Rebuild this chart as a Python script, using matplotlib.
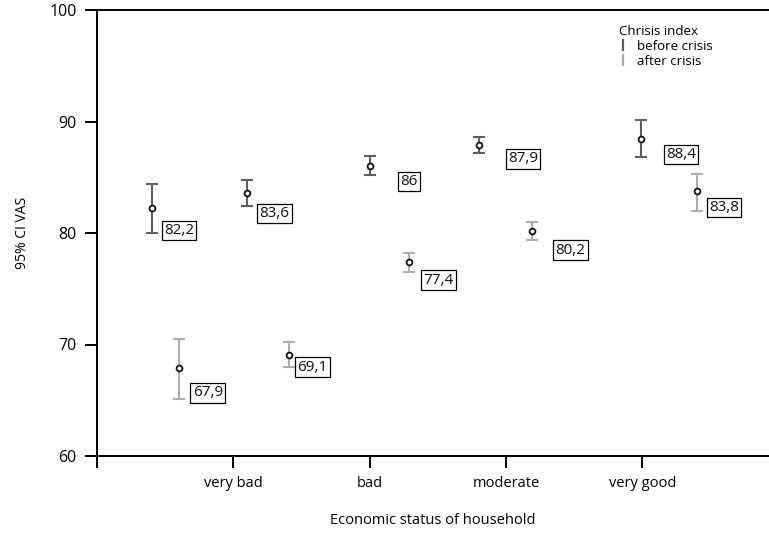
import matplotlib
matplotlib.use("Agg")
import matplotlib.pyplot as plt
from matplotlib.lines import Line2D

plt.rcParams['font.family'] = ['Open Sans', 'DejaVu Sans']

# ---- data ----
tick_labels = ["very bad", "bad", "moderate", "very good"]
before_mean = [82.2, 83.6, 86.0, 87.9, 88.4]
before_low = [80.0, 82.45, 85.2, 87.15, 86.8]
before_high = [84.4, 84.75, 86.9, 88.65, 90.1]
after_mean = [67.9, 69.1, 77.4, 80.2, 83.8]
after_low = [65.1, 68.0, 76.5, 79.35, 82.0]
after_high = [70.5, 70.2, 78.2, 81.0, 85.3]

# x positions (in category-axis units) where the groups are drawn
before_x = [0.40, 1.10, 2.00, 2.80, 3.99]
after_x = [0.60, 1.41, 2.29, 3.19, 4.40]

# label offsets (points) from each point: (dx, dy)
before_off = [(9, -16), (9, -15), (22, -11), (21, -10), (18, -11)]
after_off = [(10, -18), (6, -9), (10, -13), (17, -14), (9, -12)]

C_BEFORE = "#5e5e5e"
C_AFTER = "#adadad"

fig = plt.figure(figsize=(7.69, 5.38), dpi=100)
ax = fig.add_axes([97/769, (538-456)/538, (769-97)/769, (456-10)/538])

def draw(xs, m, lo, hi, color, offs):
    yerr = [[mm - l for mm, l in zip(m, lo)], [h - mm for mm, h in zip(m, hi)]]
    ax.errorbar(xs, m, yerr=yerr, fmt='none', ecolor=color, elinewidth=1.5,
                capsize=4.6, capthick=1.5, zorder=2)
    ax.plot(xs, m, linestyle='none', marker='o', markersize=4.2,
            markerfacecolor='white', markeredgecolor='#111111',
            markeredgewidth=1.3, zorder=3)
    for x, v, (dx, dy) in zip(xs, m, offs):
        s = f"{v:g}".replace('.', ',')
        ax.annotate(s, (x, v), xytext=(dx, dy), textcoords='offset points',
                    ha='left', va='center', fontsize=11, color='#111111',
                    bbox=dict(boxstyle='square,pad=0.15', facecolor='white',
                              edgecolor='black', linewidth=0.9), zorder=4)

draw(before_x, before_mean, before_low, before_high, C_BEFORE, before_off)
draw(after_x, after_mean, after_low, after_high, C_AFTER, after_off)

ax.set_xlim(0, 4.93)
ax.set_ylim(60, 100)
ax.set_xticks([0, 1, 2, 3, 4])
ax.set_xticklabels([""] + tick_labels, fontsize=10.5)
ax.set_yticks([60, 70, 80, 90, 100])
ax.tick_params(axis='both', direction='out', length=8.5, width=1.4, colors='black')
ax.tick_params(axis='x', pad=6)
ax.tick_params(axis='y', labelsize=11.5, pad=6)
for side in ['left', 'bottom', 'top']:
    ax.spines[side].set_linewidth(1.4)
ax.spines['right'].set_visible(False)

ax.set_xlabel("Economic status of household", fontsize=10.5, labelpad=16)
ax.set_ylabel("95% CI VAS", fontsize=10, labelpad=14)

handles = [Line2D([], [], color=C_BEFORE, marker='|', linestyle='none',
                  markersize=9, markeredgewidth=1.6),
           Line2D([], [], color=C_AFTER, marker='|', linestyle='none',
                  markersize=9, markeredgewidth=1.6)]
leg = ax.legend(handles, ["before crisis", "after crisis"], title="Chrisis index",
                loc='upper left', bbox_to_anchor=(612/769, 1 - 18/538),
                bbox_transform=fig.transFigure, frameon=False, fontsize=9.5,
                title_fontsize=9.5, handlelength=0.6, handletextpad=0.8,
                labelspacing=0.15, borderpad=0, alignment='left')

fig.savefig("out.png", dpi=100)
